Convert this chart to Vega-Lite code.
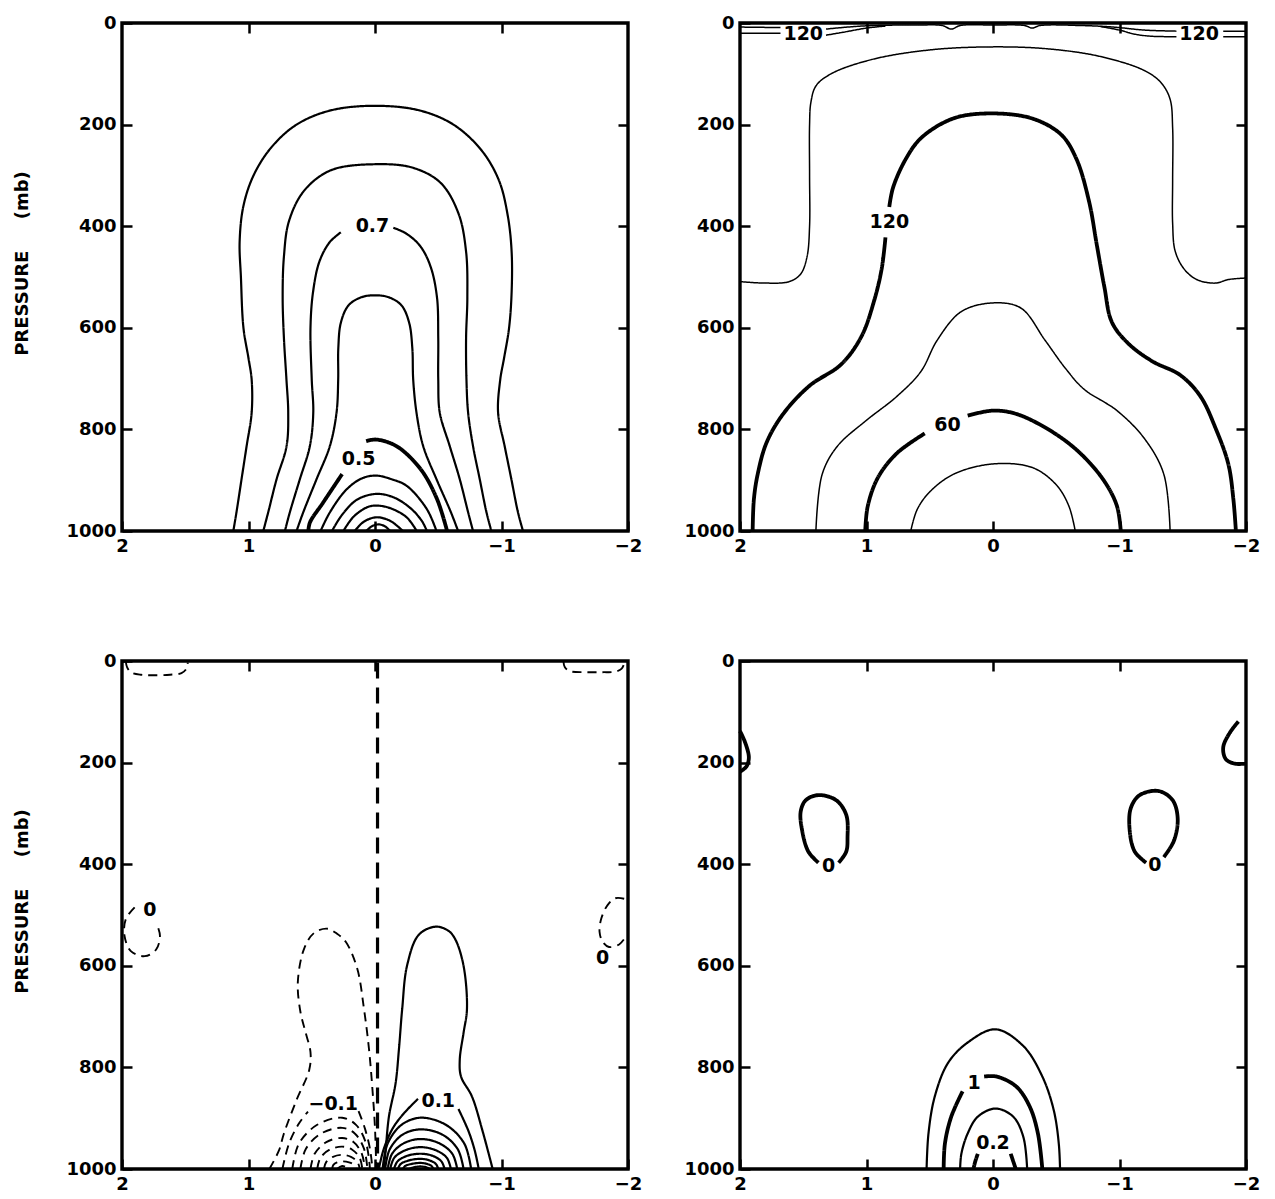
{
  "$schema": "https://vega.github.io/schema/vega-lite/v6.json",
  "background": "white",
  "padding": {"left": 12, "top": 12, "right": 5, "bottom": 5},
  "config": {
    "view": {"stroke": "black", "strokeWidth": 3.4},
    "axis": {"grid": false, "domain": false, "tickColor": "black", "tickWidth": 2.5, "tickSize": -10, "labelPadding": 16,
      "labelFont": "DejaVu Sans", "labelFontWeight": "bold", "labelFontSize": 18, "labelColor": "black", "labelOverlap": false,
      "titleFont": "DejaVu Sans", "titleFontWeight": "bold", "titleFontSize": 18, "titleColor": "black", "titlePadding": 34},
    "axisX": {"labelFlush": false},
    "axisLeft": {"titleY": 240},
    "text": {"font": "DejaVu Sans", "fontWeight": "bold", "fontSize": 19, "color": "black", "align": "center", "baseline": "middle"},
    "line": {"color": "black", "interpolate": "catmull-rom"}
  },
  "datasets": {
    "A": [
      {"id":"A1","i":0,"x":1.12,"p":1000,"k":"mid"},{"id":"A1","i":1,"x":1.095,"p":963,"k":"mid"},{"id":"A1","i":2,"x":1.055,"p":898,"k":"mid"},{"id":"A1","i":3,"x":1.015,"p":833,"k":"mid"},{"id":"A1","i":4,"x":0.975,"p":767,"k":"mid"},{"id":"A1","i":5,"x":0.975,"p":702,"k":"mid"},{"id":"A1","i":6,"x":1.0,"p":660,"k":"mid"},{"id":"A1","i":7,"x":1.04,"p":600,"k":"mid"},{"id":"A1","i":8,"x":1.06,"p":500,"k":"mid"},{"id":"A1","i":9,"x":1.07,"p":430,"k":"mid"},{"id":"A1","i":10,"x":1.04,"p":360,"k":"mid"},{"id":"A1","i":11,"x":0.96,"p":300,"k":"mid"},{"id":"A1","i":12,"x":0.82,"p":245,"k":"mid"},{"id":"A1","i":13,"x":0.62,"p":200,"k":"mid"},{"id":"A1","i":14,"x":0.35,"p":172,"k":"mid"},{"id":"A1","i":15,"x":0,"p":163,"k":"mid"},{"id":"A1","i":16,"x":-0.35,"p":172,"k":"mid"},{"id":"A1","i":17,"x":-0.62,"p":200,"k":"mid"},{"id":"A1","i":18,"x":-0.84,"p":250,"k":"mid"},{"id":"A1","i":19,"x":-0.98,"p":310,"k":"mid"},{"id":"A1","i":20,"x":-1.05,"p":380,"k":"mid"},{"id":"A1","i":21,"x":-1.08,"p":450,"k":"mid"},{"id":"A1","i":22,"x":-1.08,"p":530,"k":"mid"},{"id":"A1","i":23,"x":-1.06,"p":600,"k":"mid"},{"id":"A1","i":24,"x":-1.02,"p":660,"k":"mid"},{"id":"A1","i":25,"x":-0.99,"p":702,"k":"mid"},{"id":"A1","i":26,"x":-0.973,"p":767,"k":"mid"},{"id":"A1","i":27,"x":-1.025,"p":833,"k":"mid"},{"id":"A1","i":28,"x":-1.078,"p":898,"k":"mid"},{"id":"A1","i":29,"x":-1.13,"p":963,"k":"mid"},{"id":"A1","i":30,"x":-1.17,"p":1000,"k":"mid"},
      {"id":"A2","i":0,"x":0.883,"p":1000,"k":"mid"},{"id":"A2","i":1,"x":0.844,"p":963,"k":"mid"},{"id":"A2","i":2,"x":0.778,"p":898,"k":"mid"},{"id":"A2","i":3,"x":0.699,"p":833,"k":"mid"},{"id":"A2","i":4,"x":0.686,"p":767,"k":"mid"},{"id":"A2","i":5,"x":0.70,"p":702,"k":"mid"},{"id":"A2","i":6,"x":0.72,"p":620,"k":"mid"},{"id":"A2","i":7,"x":0.73,"p":540,"k":"mid"},{"id":"A2","i":8,"x":0.72,"p":460,"k":"mid"},{"id":"A2","i":9,"x":0.68,"p":390,"k":"mid"},{"id":"A2","i":10,"x":0.56,"p":330,"k":"mid"},{"id":"A2","i":11,"x":0.35,"p":290,"k":"mid"},{"id":"A2","i":12,"x":0,"p":278,"k":"mid"},{"id":"A2","i":13,"x":-0.30,"p":285,"k":"mid"},{"id":"A2","i":14,"x":-0.52,"p":315,"k":"mid"},{"id":"A2","i":15,"x":-0.66,"p":375,"k":"mid"},{"id":"A2","i":16,"x":-0.72,"p":450,"k":"mid"},{"id":"A2","i":17,"x":-0.73,"p":540,"k":"mid"},{"id":"A2","i":18,"x":-0.72,"p":620,"k":"mid"},{"id":"A2","i":19,"x":-0.723,"p":702,"k":"mid"},{"id":"A2","i":20,"x":-0.736,"p":767,"k":"mid"},{"id":"A2","i":21,"x":-0.775,"p":833,"k":"mid"},{"id":"A2","i":22,"x":-0.828,"p":898,"k":"mid"},{"id":"A2","i":23,"x":-0.881,"p":963,"k":"mid"},{"id":"A2","i":24,"x":-0.92,"p":1000,"k":"mid"},
      {"id":"A3a","i":0,"x":0.712,"p":1000,"k":"mid"},{"id":"A3a","i":1,"x":0.673,"p":963,"k":"mid"},{"id":"A3a","i":2,"x":0.594,"p":898,"k":"mid"},{"id":"A3a","i":3,"x":0.515,"p":833,"k":"mid"},{"id":"A3a","i":4,"x":0.488,"p":767,"k":"mid"},{"id":"A3a","i":5,"x":0.50,"p":702,"k":"mid"},{"id":"A3a","i":6,"x":0.51,"p":600,"k":"mid"},{"id":"A3a","i":7,"x":0.49,"p":530,"k":"mid"},{"id":"A3a","i":8,"x":0.44,"p":470,"k":"mid"},{"id":"A3a","i":9,"x":0.36,"p":432,"k":"mid"},{"id":"A3a","i":10,"x":0.27,"p":412,"k":"mid"},
      {"id":"A3b","i":0,"x":-0.145,"p":403,"k":"mid"},{"id":"A3b","i":1,"x":-0.25,"p":415,"k":"mid"},{"id":"A3b","i":2,"x":-0.36,"p":440,"k":"mid"},{"id":"A3b","i":3,"x":-0.44,"p":480,"k":"mid"},{"id":"A3b","i":4,"x":-0.49,"p":540,"k":"mid"},{"id":"A3b","i":5,"x":-0.50,"p":620,"k":"mid"},{"id":"A3b","i":6,"x":-0.50,"p":702,"k":"mid"},{"id":"A3b","i":7,"x":-0.512,"p":767,"k":"mid"},{"id":"A3b","i":8,"x":-0.591,"p":833,"k":"mid"},{"id":"A3b","i":9,"x":-0.670,"p":898,"k":"mid"},{"id":"A3b","i":10,"x":-0.736,"p":963,"k":"mid"},{"id":"A3b","i":11,"x":-0.775,"p":1000,"k":"mid"},
      {"id":"A4","i":0,"x":0.62,"p":1000,"k":"mid"},{"id":"A4","i":1,"x":0.567,"p":963,"k":"mid"},{"id":"A4","i":2,"x":0.462,"p":898,"k":"mid"},{"id":"A4","i":3,"x":0.357,"p":833,"k":"mid"},{"id":"A4","i":4,"x":0.304,"p":767,"k":"mid"},{"id":"A4","i":5,"x":0.291,"p":702,"k":"mid"},{"id":"A4","i":6,"x":0.29,"p":640,"k":"mid"},{"id":"A4","i":7,"x":0.27,"p":590,"k":"mid"},{"id":"A4","i":8,"x":0.21,"p":556,"k":"mid"},{"id":"A4","i":9,"x":0.11,"p":540,"k":"mid"},{"id":"A4","i":10,"x":0,"p":536,"k":"mid"},{"id":"A4","i":11,"x":-0.11,"p":540,"k":"mid"},{"id":"A4","i":12,"x":-0.21,"p":556,"k":"mid"},{"id":"A4","i":13,"x":-0.27,"p":590,"k":"mid"},{"id":"A4","i":14,"x":-0.295,"p":640,"k":"mid"},{"id":"A4","i":15,"x":-0.302,"p":702,"k":"mid"},{"id":"A4","i":16,"x":-0.328,"p":767,"k":"mid"},{"id":"A4","i":17,"x":-0.381,"p":833,"k":"mid"},{"id":"A4","i":18,"x":-0.486,"p":898,"k":"mid"},{"id":"A4","i":19,"x":-0.60,"p":963,"k":"mid"},{"id":"A4","i":20,"x":-0.657,"p":1000,"k":"mid"},
      {"id":"A5a","i":0,"x":0.527,"p":1000,"k":"bold"},{"id":"A5a","i":1,"x":0.514,"p":983,"k":"bold"},{"id":"A5a","i":2,"x":0.41,"p":944,"k":"bold"},{"id":"A5a","i":3,"x":0.26,"p":888,"k":"bold"},
      {"id":"A5b","i":0,"x":0.07,"p":823,"k":"bold"},{"id":"A5b","i":1,"x":-0.01,"p":820,"k":"bold"},{"id":"A5b","i":2,"x":-0.17,"p":833,"k":"bold"},{"id":"A5b","i":3,"x":-0.36,"p":878,"k":"bold"},{"id":"A5b","i":4,"x":-0.49,"p":937,"k":"bold"},{"id":"A5b","i":5,"x":-0.57,"p":1000,"k":"bold"},
      {"id":"A6","i":0,"x":0.43,"p":1000,"k":"mid"},{"id":"A6","i":1,"x":0.356,"p":963,"k":"mid"},{"id":"A6","i":2,"x":0.224,"p":918,"k":"mid"},{"id":"A6","i":3,"x":0.10,"p":896,"k":"mid"},{"id":"A6","i":4,"x":-0.01,"p":891,"k":"mid"},{"id":"A6","i":5,"x":-0.13,"p":898,"k":"mid"},{"id":"A6","i":6,"x":-0.25,"p":911,"k":"mid"},{"id":"A6","i":7,"x":-0.41,"p":957,"k":"mid"},{"id":"A6","i":8,"x":-0.486,"p":1000,"k":"mid"},
      {"id":"A7","i":0,"x":0.34,"p":1000,"k":"mid"},{"id":"A7","i":1,"x":0.26,"p":968,"k":"mid"},{"id":"A7","i":2,"x":0.14,"p":938,"k":"mid"},{"id":"A7","i":3,"x":-0.01,"p":927,"k":"mid"},{"id":"A7","i":4,"x":-0.15,"p":934,"k":"mid"},{"id":"A7","i":5,"x":-0.28,"p":955,"k":"mid"},{"id":"A7","i":6,"x":-0.37,"p":980,"k":"mid"},{"id":"A7","i":7,"x":-0.41,"p":1000,"k":"mid"},
      {"id":"A8","i":0,"x":0.25,"p":1000,"k":"mid"},{"id":"A8","i":1,"x":0.17,"p":972,"k":"mid"},{"id":"A8","i":2,"x":0.06,"p":953,"k":"mid"},{"id":"A8","i":3,"x":-0.01,"p":950,"k":"mid"},{"id":"A8","i":4,"x":-0.12,"p":955,"k":"mid"},{"id":"A8","i":5,"x":-0.25,"p":973,"k":"mid"},{"id":"A8","i":6,"x":-0.33,"p":1000,"k":"mid"},
      {"id":"A9","i":0,"x":0.16,"p":1000,"k":"mid"},{"id":"A9","i":1,"x":0.09,"p":982,"k":"mid"},{"id":"A9","i":2,"x":-0.01,"p":973,"k":"mid"},{"id":"A9","i":3,"x":-0.12,"p":980,"k":"mid"},{"id":"A9","i":4,"x":-0.22,"p":1000,"k":"mid"},
      {"id":"A10","i":0,"x":0.07,"p":1000,"k":"mid"},{"id":"A10","i":1,"x":0.02,"p":990,"k":"mid"},{"id":"A10","i":2,"x":-0.03,"p":987,"k":"mid"},{"id":"A10","i":3,"x":-0.08,"p":991,"k":"mid"},{"id":"A10","i":4,"x":-0.12,"p":1000,"k":"mid"}
    ],
    "B": [
      {"id":"B1","i":0,"x":2.0,"p":509,"k":"thin"},{"id":"B1","i":1,"x":1.80,"p":512,"k":"thin"},{"id":"B1","i":2,"x":1.61,"p":509,"k":"thin"},{"id":"B1","i":3,"x":1.52,"p":494,"k":"thin"},{"id":"B1","i":4,"x":1.47,"p":460,"k":"thin"},{"id":"B1","i":5,"x":1.45,"p":400,"k":"thin"},{"id":"B1","i":6,"x":1.45,"p":300,"k":"thin"},{"id":"B1","i":7,"x":1.45,"p":200,"k":"thin"},{"id":"B1","i":8,"x":1.44,"p":157,"k":"thin"},{"id":"B1","i":9,"x":1.40,"p":124,"k":"thin"},{"id":"B1","i":10,"x":1.28,"p":100,"k":"thin"},{"id":"B1","i":11,"x":0.96,"p":72,"k":"thin"},{"id":"B1","i":12,"x":0.50,"p":53,"k":"thin"},{"id":"B1","i":13,"x":0,"p":47,"k":"thin"},{"id":"B1","i":14,"x":-0.44,"p":51,"k":"thin"},{"id":"B1","i":15,"x":-0.85,"p":66,"k":"thin"},{"id":"B1","i":16,"x":-1.20,"p":94,"k":"thin"},{"id":"B1","i":17,"x":-1.33,"p":118,"k":"thin"},{"id":"B1","i":18,"x":-1.40,"p":150,"k":"thin"},{"id":"B1","i":19,"x":-1.42,"p":206,"k":"thin"},{"id":"B1","i":20,"x":-1.42,"p":310,"k":"thin"},{"id":"B1","i":21,"x":-1.42,"p":394,"k":"thin"},{"id":"B1","i":22,"x":-1.44,"p":449,"k":"thin"},{"id":"B1","i":23,"x":-1.51,"p":484,"k":"thin"},{"id":"B1","i":24,"x":-1.61,"p":505,"k":"thin"},{"id":"B1","i":25,"x":-1.76,"p":512,"k":"thin"},{"id":"B1","i":26,"x":-1.86,"p":505,"k":"thin"},{"id":"B1","i":27,"x":-2.0,"p":502,"k":"thin"},
      {"id":"B2a","i":0,"x":1.90,"p":1000,"k":"bold"},{"id":"B2a","i":1,"x":1.89,"p":937,"k":"bold"},{"id":"B2a","i":2,"x":1.86,"p":888,"k":"bold"},{"id":"B2a","i":3,"x":1.79,"p":826,"k":"bold"},{"id":"B2a","i":4,"x":1.66,"p":770,"k":"bold"},{"id":"B2a","i":5,"x":1.45,"p":714,"k":"bold"},{"id":"B2a","i":6,"x":1.20,"p":672,"k":"bold"},{"id":"B2a","i":7,"x":1.04,"p":617,"k":"bold"},{"id":"B2a","i":8,"x":0.94,"p":547,"k":"bold"},{"id":"B2a","i":9,"x":0.88,"p":484,"k":"bold"},{"id":"B2a","i":10,"x":0.85,"p":422,"k":"bold"},
      {"id":"B2b","i":0,"x":0.82,"p":362,"k":"bold"},{"id":"B2b","i":1,"x":0.79,"p":324,"k":"bold"},{"id":"B2b","i":2,"x":0.69,"p":268,"k":"bold"},{"id":"B2b","i":3,"x":0.567,"p":226,"k":"bold"},{"id":"B2b","i":4,"x":0.315,"p":188,"k":"bold"},{"id":"B2b","i":5,"x":0.03,"p":178,"k":"bold"},{"id":"B2b","i":6,"x":-0.31,"p":188,"k":"bold"},{"id":"B2b","i":7,"x":-0.54,"p":220,"k":"bold"},{"id":"B2b","i":8,"x":-0.66,"p":268,"k":"bold"},{"id":"B2b","i":9,"x":-0.76,"p":352,"k":"bold"},{"id":"B2b","i":10,"x":-0.82,"p":436,"k":"bold"},{"id":"B2b","i":11,"x":-0.88,"p":519,"k":"bold"},{"id":"B2b","i":12,"x":-0.94,"p":589,"k":"bold"},{"id":"B2b","i":13,"x":-1.07,"p":631,"k":"bold"},{"id":"B2b","i":14,"x":-1.26,"p":666,"k":"bold"},{"id":"B2b","i":15,"x":-1.48,"p":693,"k":"bold"},{"id":"B2b","i":16,"x":-1.64,"p":735,"k":"bold"},{"id":"B2b","i":17,"x":-1.76,"p":798,"k":"bold"},{"id":"B2b","i":18,"x":-1.86,"p":868,"k":"bold"},{"id":"B2b","i":19,"x":-1.90,"p":937,"k":"bold"},{"id":"B2b","i":20,"x":-1.92,"p":1000,"k":"bold"},
      {"id":"B3","i":0,"x":1.40,"p":1000,"k":"thin"},{"id":"B3","i":1,"x":1.35,"p":888,"k":"thin"},{"id":"B3","i":2,"x":1.23,"p":833,"k":"thin"},{"id":"B3","i":3,"x":1.01,"p":784,"k":"thin"},{"id":"B3","i":4,"x":0.76,"p":735,"k":"thin"},{"id":"B3","i":5,"x":0.57,"p":686,"k":"thin"},{"id":"B3","i":6,"x":0.44,"p":624,"k":"thin"},{"id":"B3","i":7,"x":0.25,"p":568,"k":"thin"},{"id":"B3","i":8,"x":0,"p":551,"k":"thin"},{"id":"B3","i":9,"x":-0.22,"p":561,"k":"thin"},{"id":"B3","i":10,"x":-0.41,"p":624,"k":"thin"},{"id":"B3","i":11,"x":-0.57,"p":679,"k":"thin"},{"id":"B3","i":12,"x":-0.72,"p":721,"k":"thin"},{"id":"B3","i":13,"x":-0.98,"p":763,"k":"thin"},{"id":"B3","i":14,"x":-1.20,"p":819,"k":"thin"},{"id":"B3","i":15,"x":-1.35,"p":888,"k":"thin"},{"id":"B3","i":16,"x":-1.40,"p":1000,"k":"thin"},
      {"id":"B4a","i":0,"x":1.01,"p":1000,"k":"bold"},{"id":"B4a","i":1,"x":0.99,"p":951,"k":"bold"},{"id":"B4a","i":2,"x":0.91,"p":895,"k":"bold"},{"id":"B4a","i":3,"x":0.76,"p":847,"k":"bold"},{"id":"B4a","i":4,"x":0.54,"p":808,"k":"bold"},
      {"id":"B4b","i":0,"x":0.20,"p":773,"k":"bold"},{"id":"B4b","i":1,"x":0,"p":763,"k":"bold"},{"id":"B4b","i":2,"x":-0.19,"p":770,"k":"bold"},{"id":"B4b","i":3,"x":-0.47,"p":805,"k":"bold"},{"id":"B4b","i":4,"x":-0.69,"p":847,"k":"bold"},{"id":"B4b","i":5,"x":-0.88,"p":902,"k":"bold"},{"id":"B4b","i":6,"x":-0.98,"p":951,"k":"bold"},{"id":"B4b","i":7,"x":-1.01,"p":1000,"k":"bold"},
      {"id":"B5","i":0,"x":0.65,"p":1000,"k":"thin"},{"id":"B5","i":1,"x":0.60,"p":958,"k":"thin"},{"id":"B5","i":2,"x":0.50,"p":923,"k":"thin"},{"id":"B5","i":3,"x":0.31,"p":888,"k":"thin"},{"id":"B5","i":4,"x":0,"p":868,"k":"thin"},{"id":"B5","i":5,"x":-0.31,"p":875,"k":"thin"},{"id":"B5","i":6,"x":-0.50,"p":909,"k":"thin"},{"id":"B5","i":7,"x":-0.60,"p":951,"k":"thin"},{"id":"B5","i":8,"x":-0.65,"p":1000,"k":"thin"},
      {"id":"BU1a","i":0,"x":2.0,"p":8,"k":"thin"},{"id":"BU1a","i":1,"x":1.68,"p":9,"k":"thin"},
      {"id":"BU1b","i":0,"x":1.32,"p":12,"k":"thin"},{"id":"BU1b","i":1,"x":1.15,"p":8,"k":"thin"},{"id":"BU1b","i":2,"x":0.95,"p":5,"k":"thin"},{"id":"BU1b","i":3,"x":0.6,"p":4,"k":"thin"},{"id":"BU1b","i":4,"x":0.4,"p":5,"k":"thin"},{"id":"BU1b","i":5,"x":0.33,"p":12,"k":"thin"},{"id":"BU1b","i":6,"x":0.26,"p":5,"k":"thin"},{"id":"BU1b","i":7,"x":0,"p":4,"k":"thin"},{"id":"BU1b","i":8,"x":-0.25,"p":5,"k":"thin"},{"id":"BU1b","i":9,"x":-0.31,"p":10,"k":"thin"},{"id":"BU1b","i":10,"x":-0.37,"p":5,"k":"thin"},{"id":"BU1b","i":11,"x":-0.7,"p":5,"k":"thin"},{"id":"BU1b","i":12,"x":-0.95,"p":8,"k":"thin"},{"id":"BU1b","i":13,"x":-1.2,"p":14,"k":"thin"},{"id":"BU1b","i":14,"x":-1.45,"p":16,"k":"thin"},
      {"id":"BU1c","i":0,"x":-1.82,"p":16,"k":"thin"},{"id":"BU1c","i":1,"x":-2.0,"p":16,"k":"thin"},
      {"id":"BU2a","i":0,"x":2.0,"p":20,"k":"thin"},{"id":"BU2a","i":1,"x":1.68,"p":20,"k":"thin"},
      {"id":"BU2b","i":0,"x":1.32,"p":24,"k":"thin"},{"id":"BU2b","i":1,"x":1.18,"p":18,"k":"thin"},{"id":"BU2b","i":2,"x":1.0,"p":10,"k":"thin"},{"id":"BU2b","i":3,"x":0.85,"p":6,"k":"thin"},
      {"id":"BU2c","i":0,"x":-0.85,"p":7,"k":"thin"},{"id":"BU2c","i":1,"x":-1.0,"p":14,"k":"thin"},{"id":"BU2c","i":2,"x":-1.12,"p":22,"k":"thin"},{"id":"BU2c","i":3,"x":-1.25,"p":26,"k":"thin"},{"id":"BU2c","i":4,"x":-1.45,"p":27,"k":"thin"},
      {"id":"BU2d","i":0,"x":-1.82,"p":27,"k":"thin"},{"id":"BU2d","i":1,"x":-2.0,"p":27,"k":"thin"}
    ],
    "C": [
      {"id":"C0","i":0,"x":-0.02,"p":3,"k":"dashbold"},{"id":"C0","i":1,"x":-0.02,"p":1000,"k":"dashbold"},
      {"id":"CN1","i":0,"x":0.835,"p":1000,"k":"dash"},{"id":"CN1","i":1,"x":0.76,"p":964,"k":"dash"},{"id":"CN1","i":2,"x":0.72,"p":930,"k":"dash"},{"id":"CN1","i":3,"x":0.62,"p":864,"k":"dash"},{"id":"CN1","i":4,"x":0.52,"p":805,"k":"dash"},{"id":"CN1","i":5,"x":0.51,"p":770,"k":"dash"},{"id":"CN1","i":6,"x":0.55,"p":730,"k":"dash"},{"id":"CN1","i":7,"x":0.59,"p":690,"k":"dash"},{"id":"CN1","i":8,"x":0.61,"p":632,"k":"dash"},{"id":"CN1","i":9,"x":0.56,"p":566,"k":"dash"},{"id":"CN1","i":10,"x":0.48,"p":535,"k":"dash"},{"id":"CN1","i":11,"x":0.376,"p":527,"k":"dash"},{"id":"CN1","i":12,"x":0.30,"p":537,"k":"dash"},{"id":"CN1","i":13,"x":0.23,"p":553,"k":"dash"},{"id":"CN1","i":14,"x":0.14,"p":606,"k":"dash"},{"id":"CN1","i":15,"x":0.087,"p":685,"k":"dash"},{"id":"CN1","i":16,"x":0.047,"p":765,"k":"dash"},{"id":"CN1","i":17,"x":0.02,"p":844,"k":"dash"},{"id":"CN1","i":18,"x":0.0,"p":920,"k":"dash"},{"id":"CN1","i":19,"x":-0.01,"p":1000,"k":"dash"},
      {"id":"CN2a","i":0,"x":0.732,"p":1000,"k":"dash"},{"id":"CN2a","i":1,"x":0.68,"p":950,"k":"dash"},{"id":"CN2a","i":2,"x":0.60,"p":910,"k":"dash"},{"id":"CN2a","i":3,"x":0.53,"p":887,"k":"dash"},
      {"id":"CN2b","i":0,"x":0.13,"p":886,"k":"dash"},{"id":"CN2b","i":1,"x":0.08,"p":920,"k":"dash"},{"id":"CN2b","i":2,"x":0.04,"p":960,"k":"dash"},{"id":"CN2b","i":3,"x":0.02,"p":1000,"k":"dash"},
      {"id":"CN3","i":0,"x":0.654,"p":1000,"k":"dash"},{"id":"CN3","i":1,"x":0.601,"p":950,"k":"dash"},{"id":"CN3","i":2,"x":0.457,"p":913,"k":"dash"},{"id":"CN3","i":3,"x":0.26,"p":899,"k":"dash"},{"id":"CN3","i":4,"x":0.15,"p":913,"k":"dash"},{"id":"CN3","i":5,"x":0.07,"p":950,"k":"dash"},{"id":"CN3","i":6,"x":0.04,"p":1000,"k":"dash"},
      {"id":"CN4","i":0,"x":0.59,"p":1000,"k":"dash"},{"id":"CN4","i":1,"x":0.546,"p":960,"k":"dash"},{"id":"CN4","i":2,"x":0.425,"p":930,"k":"dash"},{"id":"CN4","i":3,"x":0.26,"p":919,"k":"dash"},{"id":"CN4","i":4,"x":0.16,"p":930,"k":"dash"},{"id":"CN4","i":5,"x":0.087,"p":960,"k":"dash"},{"id":"CN4","i":6,"x":0.06,"p":1000,"k":"dash"},
      {"id":"CN5","i":0,"x":0.51,"p":1000,"k":"dash"},{"id":"CN5","i":1,"x":0.477,"p":970,"k":"dash"},{"id":"CN5","i":2,"x":0.385,"p":947,"k":"dash"},{"id":"CN5","i":3,"x":0.26,"p":939,"k":"dash"},{"id":"CN5","i":4,"x":0.17,"p":947,"k":"dash"},{"id":"CN5","i":5,"x":0.104,"p":970,"k":"dash"},{"id":"CN5","i":6,"x":0.08,"p":1000,"k":"dash"},
      {"id":"CN6","i":0,"x":0.457,"p":1000,"k":"dash"},{"id":"CN6","i":1,"x":0.431,"p":978,"k":"dash"},{"id":"CN6","i":2,"x":0.359,"p":962,"k":"dash"},{"id":"CN6","i":3,"x":0.26,"p":956,"k":"dash"},{"id":"CN6","i":4,"x":0.18,"p":962,"k":"dash"},{"id":"CN6","i":5,"x":0.121,"p":978,"k":"dash"},{"id":"CN6","i":6,"x":0.10,"p":1000,"k":"dash"},
      {"id":"CN7","i":0,"x":0.404,"p":1000,"k":"dash"},{"id":"CN7","i":1,"x":0.385,"p":986,"k":"dash"},{"id":"CN7","i":2,"x":0.332,"p":976,"k":"dash"},{"id":"CN7","i":3,"x":0.26,"p":972,"k":"dash"},{"id":"CN7","i":4,"x":0.19,"p":976,"k":"dash"},{"id":"CN7","i":5,"x":0.139,"p":986,"k":"dash"},{"id":"CN7","i":6,"x":0.12,"p":1000,"k":"dash"},
      {"id":"CN8","i":0,"x":0.339,"p":1000,"k":"dash"},{"id":"CN8","i":1,"x":0.329,"p":992,"k":"dash"},{"id":"CN8","i":2,"x":0.30,"p":987,"k":"dash"},{"id":"CN8","i":3,"x":0.26,"p":985,"k":"dash"},{"id":"CN8","i":4,"x":0.205,"p":987,"k":"dash"},{"id":"CN8","i":5,"x":0.165,"p":992,"k":"dash"},{"id":"CN8","i":6,"x":0.15,"p":1000,"k":"dash"},
      {"id":"CN9","i":0,"x":0.30,"p":1000,"k":"dash"},{"id":"CN9","i":1,"x":0.26,"p":994,"k":"dash"},{"id":"CN9","i":2,"x":0.20,"p":1000,"k":"dash"},
      {"id":"CNtl","i":0,"x":1.97,"p":1,"k":"dash"},{"id":"CNtl","i":1,"x":1.96,"p":12,"k":"dash"},{"id":"CNtl","i":2,"x":1.93,"p":22,"k":"dash"},{"id":"CNtl","i":3,"x":1.85,"p":27,"k":"dash"},{"id":"CNtl","i":4,"x":1.74,"p":28,"k":"dash"},{"id":"CNtl","i":5,"x":1.62,"p":27,"k":"dash"},{"id":"CNtl","i":6,"x":1.53,"p":24,"k":"dash"},{"id":"CNtl","i":7,"x":1.49,"p":15,"k":"dash"},{"id":"CNtl","i":8,"x":1.48,"p":3,"k":"dash"},
      {"id":"CNtr","i":0,"x":-1.49,"p":1,"k":"dash"},{"id":"CNtr","i":1,"x":-1.50,"p":12,"k":"dash"},{"id":"CNtr","i":2,"x":-1.54,"p":20,"k":"dash"},{"id":"CNtr","i":3,"x":-1.67,"p":22,"k":"dash"},{"id":"CNtr","i":4,"x":-1.80,"p":22,"k":"dash"},{"id":"CNtr","i":5,"x":-1.90,"p":21,"k":"dash"},{"id":"CNtr","i":6,"x":-1.95,"p":15,"k":"dash"},{"id":"CNtr","i":7,"x":-1.97,"p":5,"k":"dash"},
      {"id":"CNl","i":0,"x":1.90,"p":485,"k":"dash"},{"id":"CNl","i":1,"x":1.97,"p":508,"k":"dash"},{"id":"CNl","i":2,"x":1.98,"p":541,"k":"dash"},{"id":"CNl","i":3,"x":1.93,"p":571,"k":"dash"},{"id":"CNl","i":4,"x":1.82,"p":581,"k":"dash"},{"id":"CNl","i":5,"x":1.73,"p":568,"k":"dash"},{"id":"CNl","i":6,"x":1.70,"p":541,"k":"dash"},{"id":"CNl","i":7,"x":1.72,"p":521,"k":"dash"},
      {"id":"CNr","i":0,"x":-1.97,"p":468,"k":"dash"},{"id":"CNr","i":1,"x":-1.90,"p":467,"k":"dash"},{"id":"CNr","i":2,"x":-1.84,"p":480,"k":"dash"},{"id":"CNr","i":3,"x":-1.79,"p":506,"k":"dash"},{"id":"CNr","i":4,"x":-1.775,"p":533,"k":"dash"},{"id":"CNr","i":5,"x":-1.80,"p":553,"k":"dash"},{"id":"CNr","i":6,"x":-1.85,"p":563,"k":"dash"},{"id":"CNr","i":7,"x":-1.93,"p":558,"k":"dash"},{"id":"CNr","i":8,"x":-1.99,"p":540,"k":"dash"},
      {"id":"CP1","i":0,"x":-0.07,"p":1000,"k":"mid"},{"id":"CP1","i":1,"x":-0.084,"p":964,"k":"mid"},{"id":"CP1","i":2,"x":-0.11,"p":897,"k":"mid"},{"id":"CP1","i":3,"x":-0.163,"p":831,"k":"mid"},{"id":"CP1","i":4,"x":-0.189,"p":765,"k":"mid"},{"id":"CP1","i":5,"x":-0.215,"p":685,"k":"mid"},{"id":"CP1","i":6,"x":-0.254,"p":599,"k":"mid"},{"id":"CP1","i":7,"x":-0.346,"p":539,"k":"mid"},{"id":"CP1","i":8,"x":-0.478,"p":523,"k":"mid"},{"id":"CP1","i":9,"x":-0.58,"p":531,"k":"mid"},{"id":"CP1","i":10,"x":-0.635,"p":548,"k":"mid"},{"id":"CP1","i":11,"x":-0.70,"p":600,"k":"mid"},{"id":"CP1","i":12,"x":-0.727,"p":685,"k":"mid"},{"id":"CP1","i":13,"x":-0.70,"p":732,"k":"mid"},{"id":"CP1","i":14,"x":-0.67,"p":785,"k":"mid"},{"id":"CP1","i":15,"x":-0.68,"p":818,"k":"mid"},{"id":"CP1","i":16,"x":-0.766,"p":857,"k":"mid"},{"id":"CP1","i":17,"x":-0.85,"p":925,"k":"mid"},{"id":"CP1","i":18,"x":-0.93,"p":1000,"k":"mid"},
      {"id":"CP2a","i":0,"x":-0.03,"p":1000,"k":"mid"},{"id":"CP2a","i":1,"x":-0.07,"p":960,"k":"mid"},{"id":"CP2a","i":2,"x":-0.14,"p":920,"k":"mid"},{"id":"CP2a","i":3,"x":-0.23,"p":890,"k":"mid"},{"id":"CP2a","i":4,"x":-0.34,"p":862,"k":"mid"},
      {"id":"CP2b","i":0,"x":-0.66,"p":882,"k":"mid"},{"id":"CP2b","i":1,"x":-0.74,"p":926,"k":"mid"},{"id":"CP2b","i":2,"x":-0.79,"p":965,"k":"mid"},{"id":"CP2b","i":3,"x":-0.82,"p":1000,"k":"mid"},
      {"id":"CP3","i":0,"x":-0.06,"p":1000,"k":"mid"},{"id":"CP3","i":1,"x":-0.10,"p":950,"k":"mid"},{"id":"CP3","i":2,"x":-0.21,"p":913,"k":"mid"},{"id":"CP3","i":3,"x":-0.36,"p":899,"k":"mid"},{"id":"CP3","i":4,"x":-0.56,"p":913,"k":"mid"},{"id":"CP3","i":5,"x":-0.706,"p":950,"k":"mid"},{"id":"CP3","i":6,"x":-0.76,"p":1000,"k":"mid"},
      {"id":"CP4","i":0,"x":-0.08,"p":1000,"k":"mid"},{"id":"CP4","i":1,"x":-0.117,"p":961,"k":"mid"},{"id":"CP4","i":2,"x":-0.22,"p":932,"k":"mid"},{"id":"CP4","i":3,"x":-0.36,"p":922,"k":"mid"},{"id":"CP4","i":4,"x":-0.53,"p":932,"k":"mid"},{"id":"CP4","i":5,"x":-0.654,"p":961,"k":"mid"},{"id":"CP4","i":6,"x":-0.70,"p":1000,"k":"mid"},
      {"id":"CP5","i":0,"x":-0.10,"p":1000,"k":"mid"},{"id":"CP5","i":1,"x":-0.135,"p":970,"k":"mid"},{"id":"CP5","i":2,"x":-0.23,"p":949,"k":"mid"},{"id":"CP5","i":3,"x":-0.36,"p":941,"k":"mid"},{"id":"CP5","i":4,"x":-0.505,"p":949,"k":"mid"},{"id":"CP5","i":5,"x":-0.611,"p":970,"k":"mid"},{"id":"CP5","i":6,"x":-0.65,"p":1000,"k":"mid"},
      {"id":"CP6","i":0,"x":-0.12,"p":1000,"k":"mid"},{"id":"CP6","i":1,"x":-0.152,"p":978,"k":"mid"},{"id":"CP6","i":2,"x":-0.24,"p":963,"k":"mid"},{"id":"CP6","i":3,"x":-0.36,"p":957,"k":"mid"},{"id":"CP6","i":4,"x":-0.48,"p":963,"k":"mid"},{"id":"CP6","i":5,"x":-0.568,"p":978,"k":"mid"},{"id":"CP6","i":6,"x":-0.60,"p":1000,"k":"mid"},
      {"id":"CP7","i":0,"x":-0.15,"p":1000,"k":"mid"},{"id":"CP7","i":1,"x":-0.178,"p":985,"k":"mid"},{"id":"CP7","i":2,"x":-0.255,"p":974,"k":"mid"},{"id":"CP7","i":3,"x":-0.36,"p":970,"k":"mid"},{"id":"CP7","i":4,"x":-0.455,"p":974,"k":"mid"},{"id":"CP7","i":5,"x":-0.525,"p":985,"k":"mid"},{"id":"CP7","i":6,"x":-0.55,"p":1000,"k":"mid"},
      {"id":"CP8","i":0,"x":-0.18,"p":1000,"k":"mid"},{"id":"CP8","i":1,"x":-0.204,"p":990,"k":"mid"},{"id":"CP8","i":2,"x":-0.27,"p":983,"k":"mid"},{"id":"CP8","i":3,"x":-0.36,"p":980,"k":"mid"},{"id":"CP8","i":4,"x":-0.43,"p":983,"k":"mid"},{"id":"CP8","i":5,"x":-0.481,"p":990,"k":"mid"},{"id":"CP8","i":6,"x":-0.50,"p":1000,"k":"mid"},
      {"id":"CP9","i":0,"x":-0.22,"p":1000,"k":"mid"},{"id":"CP9","i":1,"x":-0.239,"p":994,"k":"mid"},{"id":"CP9","i":2,"x":-0.29,"p":990,"k":"mid"},{"id":"CP9","i":3,"x":-0.36,"p":988,"k":"mid"},{"id":"CP9","i":4,"x":-0.41,"p":990,"k":"mid"},{"id":"CP9","i":5,"x":-0.447,"p":994,"k":"mid"},{"id":"CP9","i":6,"x":-0.46,"p":1000,"k":"mid"},
      {"id":"CP10","i":0,"x":-0.27,"p":1000,"k":"mid"},{"id":"CP10","i":1,"x":-0.30,"p":997,"k":"mid"},{"id":"CP10","i":2,"x":-0.36,"p":995,"k":"mid"},{"id":"CP10","i":3,"x":-0.41,"p":997,"k":"mid"},{"id":"CP10","i":4,"x":-0.43,"p":1000,"k":"mid"}
    ],
    "D": [
      {"id":"D1","i":0,"x":0.525,"p":1000,"k":"mid"},{"id":"D1","i":1,"x":0.51,"p":930,"k":"mid"},{"id":"D1","i":2,"x":0.46,"p":857,"k":"mid"},{"id":"D1","i":3,"x":0.355,"p":791,"k":"mid"},{"id":"D1","i":4,"x":0.2,"p":751,"k":"mid"},{"id":"D1","i":5,"x":-0.02,"p":725,"k":"mid"},{"id":"D1","i":6,"x":-0.24,"p":758,"k":"mid"},{"id":"D1","i":7,"x":-0.39,"p":818,"k":"mid"},{"id":"D1","i":8,"x":-0.48,"p":884,"k":"mid"},{"id":"D1","i":9,"x":-0.52,"p":950,"k":"mid"},{"id":"D1","i":10,"x":-0.53,"p":1000,"k":"mid"},
      {"id":"D2a","i":0,"x":0.39,"p":1000,"k":"bold"},{"id":"D2a","i":1,"x":0.38,"p":950,"k":"bold"},{"id":"D2a","i":2,"x":0.33,"p":897,"k":"bold"},{"id":"D2a","i":3,"x":0.24,"p":847,"k":"bold"},
      {"id":"D2b","i":0,"x":0.07,"p":818,"k":"bold"},{"id":"D2b","i":1,"x":-0.03,"p":818,"k":"bold"},{"id":"D2b","i":2,"x":-0.185,"p":838,"k":"bold"},{"id":"D2b","i":3,"x":-0.29,"p":877,"k":"bold"},{"id":"D2b","i":4,"x":-0.355,"p":930,"k":"bold"},{"id":"D2b","i":5,"x":-0.39,"p":1000,"k":"bold"},
      {"id":"D3","i":0,"x":0.26,"p":1000,"k":"mid"},{"id":"D3","i":1,"x":0.25,"p":970,"k":"mid"},{"id":"D3","i":2,"x":0.2,"p":930,"k":"mid"},{"id":"D3","i":3,"x":0.12,"p":897,"k":"mid"},{"id":"D3","i":4,"x":-0.02,"p":881,"k":"mid"},{"id":"D3","i":5,"x":-0.16,"p":897,"k":"mid"},{"id":"D3","i":6,"x":-0.24,"p":937,"k":"mid"},{"id":"D3","i":7,"x":-0.27,"p":1000,"k":"mid"},
      {"id":"D4a","i":0,"x":0.155,"p":1000,"k":"bold"},{"id":"D4a","i":1,"x":0.14,"p":985,"k":"bold"},{"id":"D4a","i":2,"x":0.12,"p":970,"k":"bold"},
      {"id":"D4b","i":0,"x":-0.18,"p":1000,"k":"bold"},{"id":"D4b","i":1,"x":-0.16,"p":985,"k":"bold"},{"id":"D4b","i":2,"x":-0.14,"p":970,"k":"bold"},
      {"id":"D5","i":0,"x":2.0,"p":138,"k":"bold"},{"id":"D5","i":1,"x":1.96,"p":160,"k":"bold"},{"id":"D5","i":2,"x":1.93,"p":190,"k":"bold"},{"id":"D5","i":3,"x":1.95,"p":208,"k":"bold"},{"id":"D5","i":4,"x":2.0,"p":218,"k":"bold"},
      {"id":"D6","i":0,"x":-1.94,"p":119,"k":"bold"},{"id":"D6","i":1,"x":-1.87,"p":142,"k":"bold"},{"id":"D6","i":2,"x":-1.82,"p":170,"k":"bold"},{"id":"D6","i":3,"x":-1.84,"p":193,"k":"bold"},{"id":"D6","i":4,"x":-1.91,"p":202,"k":"bold"},{"id":"D6","i":5,"x":-2.0,"p":202,"k":"bold"},
      {"id":"D7","i":0,"x":1.38,"p":397,"k":"bold"},{"id":"D7","i":1,"x":1.46,"p":375,"k":"bold"},{"id":"D7","i":2,"x":1.51,"p":332,"k":"bold"},{"id":"D7","i":3,"x":1.52,"p":296,"k":"bold"},{"id":"D7","i":4,"x":1.48,"p":274,"k":"bold"},{"id":"D7","i":5,"x":1.38,"p":264,"k":"bold"},{"id":"D7","i":6,"x":1.24,"p":274,"k":"bold"},{"id":"D7","i":7,"x":1.16,"p":303,"k":"bold"},{"id":"D7","i":8,"x":1.15,"p":347,"k":"bold"},{"id":"D7","i":9,"x":1.16,"p":375,"k":"bold"},{"id":"D7","i":10,"x":1.22,"p":397,"k":"bold"},
      {"id":"D8","i":0,"x":-1.21,"p":397,"k":"bold"},{"id":"D8","i":1,"x":-1.12,"p":375,"k":"bold"},{"id":"D8","i":2,"x":-1.08,"p":332,"k":"bold"},{"id":"D8","i":3,"x":-1.09,"p":289,"k":"bold"},{"id":"D8","i":4,"x":-1.16,"p":264,"k":"bold"},{"id":"D8","i":5,"x":-1.31,"p":256,"k":"bold"},{"id":"D8","i":6,"x":-1.42,"p":274,"k":"bold"},{"id":"D8","i":7,"x":-1.46,"p":310,"k":"bold"},{"id":"D8","i":8,"x":-1.43,"p":354,"k":"bold"},{"id":"D8","i":9,"x":-1.35,"p":386,"k":"bold"}
    ],
    "labels": [
      {"panel":"A","t":"0.7","x":0.02,"p":400},{"panel":"A","t":"0.5","x":0.13,"p":859},
      {"panel":"B","t":"120","x":1.50,"p":21},{"panel":"B","t":"120","x":-1.63,"p":22},{"panel":"B","t":"120","x":0.82,"p":392},{"panel":"B","t":"60","x":0.36,"p":792},
      {"panel":"C","t":"−0.1","x":0.33,"p":873},{"panel":"C","t":"0.1","x":-0.50,"p":866},{"panel":"C","t":"0","x":1.78,"p":490},{"panel":"C","t":"0","x":-1.80,"p":585},
      {"panel":"D","t":"0","x":1.30,"p":404},{"panel":"D","t":"0","x":-1.28,"p":402},{"panel":"D","t":"1","x":0.15,"p":831},{"panel":"D","t":"0.2","x":0.0,"p":948}
    ]
  },
  "columns": 2,
  "spacing": {"row": 130, "column": 112},
  "bounds": "flush",
  "concat": [
    {
      "width": 506, "height": 508,
      "layer": [
        {"data": {"name": "A"}, "mark": {"type": "line"},
         "encoding": {
          "x": {"field": "x", "type": "quantitative", "scale": {"domain": [-2, 2], "reverse": true, "nice": false, "zero": false}, "axis": {"orient": "bottom", "values": [2, 1, 0, -1, -2], "format": "d", "title": null}},
          "y": {"field": "p", "type": "quantitative", "scale": {"domain": [0, 1000], "reverse": true, "nice": false}, "axis": {"orient": "left", "values": [0, 200, 400, 600, 800, 1000], "format": "d", "title": "PRESSURE\u00a0\u00a0\u00a0\u00a0\u00a0(mb)"}},
          "detail": {"field": "id", "type": "nominal"},
          "order": {"field": "i", "type": "quantitative"},
          "strokeWidth": {"field": "k", "type": "nominal", "scale": {"type": "ordinal", "domain": ["thin", "mid", "bold", "dash", "dashbold"], "range": [1.5, 2.2, 3.8, 1.9, 3.2]}, "legend": null},
          "strokeDash": {"field": "k", "type": "nominal", "scale": {"domain": ["thin", "mid", "bold", "dash", "dashbold"], "range": [[1, 0], [1, 0], [1, 0], [9, 6], [16, 9]]}, "legend": null}
         }},
        {"data": {"name": "labels"}, "transform": [{"filter": "datum.panel === 'A'"}], "mark": {"type": "text"},
         "encoding": {
          "x": {"field": "x", "type": "quantitative", "axis": {"orient": "top", "values": [1, 0, -1], "labels": false, "title": null}},
          "y": {"field": "p", "type": "quantitative", "axis": {"orient": "right", "values": [200, 400, 600, 800], "labels": false, "title": null}},
          "text": {"field": "t"}
         }}
      ],
      "resolve": {"axis": {"x": "independent", "y": "independent"}}
    },
    {
      "width": 506, "height": 508,
      "layer": [
        {"data": {"name": "B"}, "mark": {"type": "line"},
         "encoding": {
          "x": {"field": "x", "type": "quantitative", "scale": {"domain": [-2, 2], "reverse": true, "nice": false, "zero": false}, "axis": {"orient": "bottom", "values": [2, 1, 0, -1, -2], "format": "d", "title": null}},
          "y": {"field": "p", "type": "quantitative", "scale": {"domain": [0, 1000], "reverse": true, "nice": false}, "axis": {"orient": "left", "values": [0, 200, 400, 600, 800, 1000], "format": "d", "title": null}},
          "detail": {"field": "id", "type": "nominal"},
          "order": {"field": "i", "type": "quantitative"},
          "strokeWidth": {"field": "k", "type": "nominal", "scale": {"type": "ordinal", "domain": ["thin", "mid", "bold", "dash", "dashbold"], "range": [1.5, 2.2, 3.8, 1.9, 3.2]}, "legend": null},
          "strokeDash": {"field": "k", "type": "nominal", "scale": {"domain": ["thin", "mid", "bold", "dash", "dashbold"], "range": [[1, 0], [1, 0], [1, 0], [9, 6], [16, 9]]}, "legend": null}
         }},
        {"data": {"name": "labels"}, "transform": [{"filter": "datum.panel === 'B'"}], "mark": {"type": "text"},
         "encoding": {
          "x": {"field": "x", "type": "quantitative", "axis": {"orient": "top", "values": [1, 0, -1], "labels": false, "title": null}},
          "y": {"field": "p", "type": "quantitative", "axis": {"orient": "right", "values": [200, 400, 600, 800], "labels": false, "title": null}},
          "text": {"field": "t"}
         }}
      ],
      "resolve": {"axis": {"x": "independent", "y": "independent"}}
    },
    {
      "width": 506, "height": 508,
      "layer": [
        {"data": {"name": "C"}, "mark": {"type": "line"},
         "encoding": {
          "x": {"field": "x", "type": "quantitative", "scale": {"domain": [-2, 2], "reverse": true, "nice": false, "zero": false}, "axis": {"orient": "bottom", "values": [2, 1, 0, -1, -2], "format": "d", "title": null}},
          "y": {"field": "p", "type": "quantitative", "scale": {"domain": [0, 1000], "reverse": true, "nice": false}, "axis": {"orient": "left", "values": [0, 200, 400, 600, 800, 1000], "format": "d", "title": "PRESSURE\u00a0\u00a0\u00a0\u00a0\u00a0(mb)"}},
          "detail": {"field": "id", "type": "nominal"},
          "order": {"field": "i", "type": "quantitative"},
          "strokeWidth": {"field": "k", "type": "nominal", "scale": {"type": "ordinal", "domain": ["thin", "mid", "bold", "dash", "dashbold"], "range": [1.5, 2.2, 3.8, 1.9, 3.2]}, "legend": null},
          "strokeDash": {"field": "k", "type": "nominal", "scale": {"domain": ["thin", "mid", "bold", "dash", "dashbold"], "range": [[1, 0], [1, 0], [1, 0], [9, 6], [16, 9]]}, "legend": null}
         }},
        {"data": {"name": "labels"}, "transform": [{"filter": "datum.panel === 'C'"}], "mark": {"type": "text"},
         "encoding": {
          "x": {"field": "x", "type": "quantitative", "axis": {"orient": "top", "values": [1, 0, -1], "labels": false, "title": null}},
          "y": {"field": "p", "type": "quantitative", "axis": {"orient": "right", "values": [200, 400, 600, 800], "labels": false, "title": null}},
          "text": {"field": "t"}
         }}
      ],
      "resolve": {"axis": {"x": "independent", "y": "independent"}}
    },
    {
      "width": 506, "height": 508,
      "layer": [
        {"data": {"name": "D"}, "mark": {"type": "line"},
         "encoding": {
          "x": {"field": "x", "type": "quantitative", "scale": {"domain": [-2, 2], "reverse": true, "nice": false, "zero": false}, "axis": {"orient": "bottom", "values": [2, 1, 0, -1, -2], "format": "d", "title": null}},
          "y": {"field": "p", "type": "quantitative", "scale": {"domain": [0, 1000], "reverse": true, "nice": false}, "axis": {"orient": "left", "values": [0, 200, 400, 600, 800, 1000], "format": "d", "title": null}},
          "detail": {"field": "id", "type": "nominal"},
          "order": {"field": "i", "type": "quantitative"},
          "strokeWidth": {"field": "k", "type": "nominal", "scale": {"type": "ordinal", "domain": ["thin", "mid", "bold", "dash", "dashbold"], "range": [1.5, 2.2, 3.8, 1.9, 3.2]}, "legend": null},
          "strokeDash": {"field": "k", "type": "nominal", "scale": {"domain": ["thin", "mid", "bold", "dash", "dashbold"], "range": [[1, 0], [1, 0], [1, 0], [9, 6], [16, 9]]}, "legend": null}
         }},
        {"data": {"name": "labels"}, "transform": [{"filter": "datum.panel === 'D'"}], "mark": {"type": "text"},
         "encoding": {
          "x": {"field": "x", "type": "quantitative", "axis": {"orient": "top", "values": [1, 0, -1], "labels": false, "title": null}},
          "y": {"field": "p", "type": "quantitative", "axis": {"orient": "right", "values": [200, 400, 600, 800], "labels": false, "title": null}},
          "text": {"field": "t"}
         }}
      ],
      "resolve": {"axis": {"x": "independent", "y": "independent"}}
    }
  ]
}
